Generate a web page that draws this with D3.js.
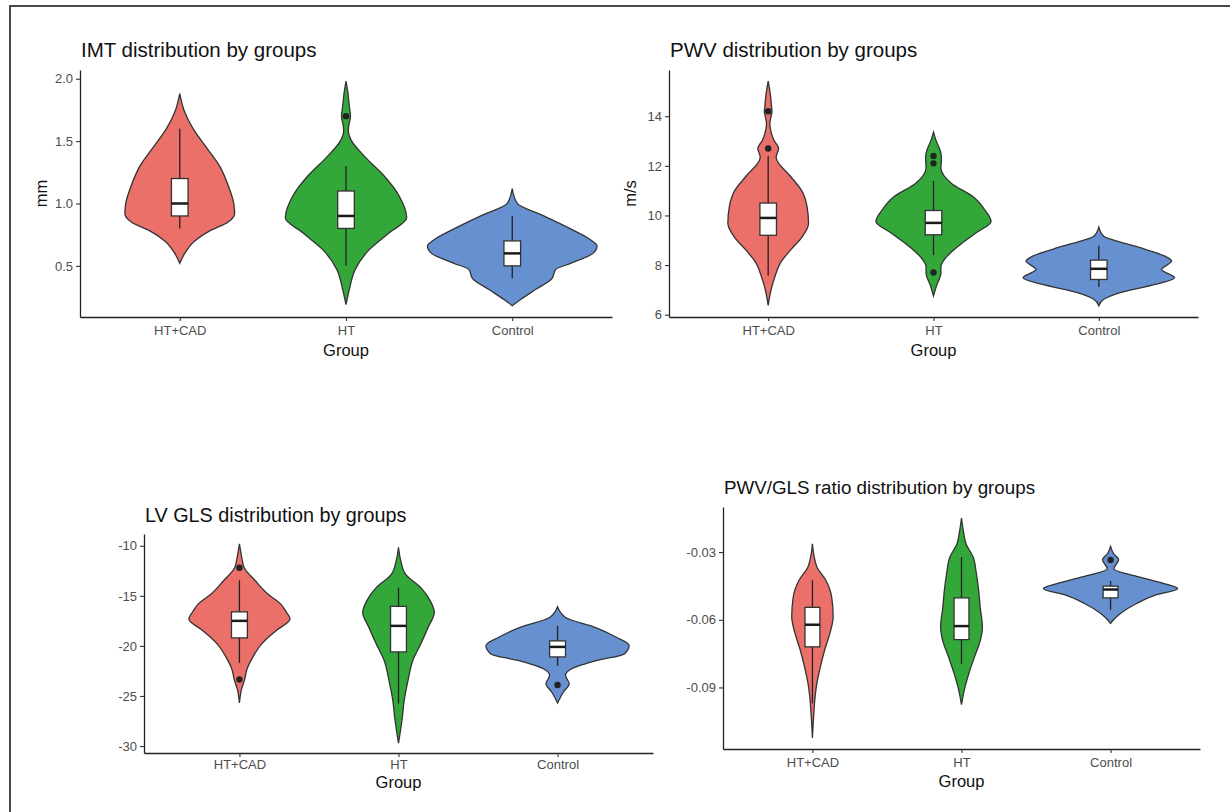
<!DOCTYPE html>
<html>
<head>
<meta charset="utf-8">
<script src="https://cdn.jsdelivr.net/npm/d3@7"></script>
<style>
body { margin: 0; background: #fff; }
svg text { font-family: "Liberation Sans", Arial, Helvetica, sans-serif; }
</style>
</head>
<body>
<div id="chart"></div>
<script>
//groups and colours
var groups = ["HT+CAD", "HT", "Control"];
var groupColors = ["#EA7069", "#33A73A", "#6690D0"];

//violin outlines: [value, half width in category units]
var imtViolins = [
    [[1.88, 0], [1.75, 0.025], [1.6, 0.08], [1.45, 0.16], [1.3, 0.24], [1.15, 0.29], [1.0, 0.325], [0.92, 0.33], [0.85, 0.29], [0.78, 0.18], [0.7, 0.09], [0.6, 0.03], [0.52, 0]],
    [[1.98, 0], [1.9, 0.01], [1.78, 0.02], [1.7, 0.027], [1.62, 0.016], [1.58, 0.014], [1.51, 0.03], [1.38, 0.11], [1.22, 0.23], [1.06, 0.32], [0.885, 0.365], [0.765, 0.26], [0.63, 0.14], [0.47, 0.055], [0.31, 0.02], [0.19, 0]],
    [[1.12, 0], [1.0, 0.03], [0.9, 0.19], [0.79, 0.36], [0.71, 0.47], [0.66, 0.51], [0.6, 0.485], [0.52, 0.35], [0.47, 0.26], [0.4, 0.24], [0.31, 0.14], [0.23, 0.05], [0.18, 0]]
];
//boxes: [lower whisker, q1, median, q3, upper whisker]
var imtBoxes = [[0.8, 0.9, 1.0, 1.2, 1.6], [0.5, 0.8, 0.9, 1.1, 1.3], [0.4, 0.5, 0.6, 0.7, 0.9]];
var imtOutliers = [[], [1.7], []];
var imtTicks = [0.5, 1.0, 1.5, 2.0];
var imtTickLabels = ["0.5", "1.0", "1.5", "2.0"];

var pwvViolins = [
    [[15.41, 0], [14.77, 0.015], [14.4, 0.02], [14.2, 0.023], [13.95, 0.016], [13.7, 0.01], [13.3, 0.02], [13.03, 0.035], [12.7, 0.063], [12.35, 0.048], [11.56, 0.137], [11.03, 0.2], [10.36, 0.235], [9.69, 0.244], [9.16, 0.208], [8.62, 0.137], [8.09, 0.074], [7.56, 0.042], [7.02, 0.018], [6.38, 0]],
    [[13.36, 0], [13.03, 0.015], [12.63, 0.04], [12.36, 0.048], [11.9, 0.045], [11.3, 0.107], [10.76, 0.238], [10.23, 0.31], [9.76, 0.348], [9.29, 0.256], [8.76, 0.149], [8.22, 0.065], [7.95, 0.045], [7.69, 0.045], [7.16, 0.018], [6.76, 0]],
    [[9.53, 0], [9.16, 0.03], [8.76, 0.22], [8.36, 0.4], [8.16, 0.44], [7.82, 0.38], [7.49, 0.458], [7.22, 0.34], [6.89, 0.13], [6.62, 0.03], [6.36, 0]]
];
var pwvBoxes = [[7.58, 9.2, 9.9, 10.5, 12.4], [8.4, 9.22, 9.7, 10.2, 11.4], [7.13, 7.42, 7.85, 8.2, 8.78]];
var pwvOutliers = [[14.2, 12.7], [12.4, 12.1, 7.7], []];
var pwvTicks = [6, 8, 10, 12, 14];
var pwvTickLabels = ["6", "8", "10", "12", "14"];

var glsViolins = [
    [[-9.82, 0], [-11.2, 0.015], [-12.2, 0.03], [-13.5, 0.1], [-14.84, 0.18], [-15.83, 0.26], [-16.5, 0.29], [-17.32, 0.318], [-18.48, 0.23], [-19.8, 0.14], [-21.1, 0.085], [-22.45, 0.045], [-23.3, 0.034], [-24.4, 0.012], [-25.7, 0]],
    [[-10.15, 0], [-11.54, 0.015], [-12.86, 0.045], [-14.18, 0.14], [-15.5, 0.2], [-16.66, 0.225], [-18.15, 0.186], [-19.8, 0.14], [-21.45, 0.09], [-23.44, 0.06], [-25.42, 0.036], [-27.4, 0.022], [-28.7, 0.01], [-29.7, 0]],
    [[-16.1, 0], [-17.16, 0.05], [-18.15, 0.236], [-19.14, 0.37], [-19.97, 0.45], [-20.8, 0.42], [-21.45, 0.25], [-22.28, 0.09], [-22.94, 0.05], [-23.77, 0.073], [-24.6, 0.037], [-25.7, 0]]
];
var glsBoxes = [[-21.7, -19.2, -17.5, -16.6, -13.45], [-25.75, -20.6, -18, -16.05, -14.18], [-22.0, -21.1, -20.1, -19.5, -18.0]];
var glsOutliers = [[-12.2, -23.35], [], [-23.9]];
var glsTicks = [-30, -25, -20, -15, -10];
var glsTickLabels = ["-30", "-25", "-20", "-15", "-10"];

var ratioViolins = [
    [[-0.0263, 0], [-0.0322, 0.012], [-0.0366, 0.03], [-0.0425, 0.09], [-0.0499, 0.129], [-0.0587, 0.139], [-0.066, 0.117], [-0.0734, 0.082], [-0.0807, 0.054], [-0.0881, 0.03], [-0.094, 0.018], [-0.1028, 0.008], [-0.1124, 0]],
    [[-0.0149, 0], [-0.0204, 0.012], [-0.0263, 0.03], [-0.0322, 0.078], [-0.0396, 0.1], [-0.0469, 0.115], [-0.0543, 0.125], [-0.0631, 0.14], [-0.069, 0.127], [-0.0763, 0.088], [-0.0837, 0.05], [-0.0896, 0.024], [-0.0976, 0]],
    [[-0.0275, 0], [-0.0307, 0.02], [-0.0334, 0.054], [-0.0374, 0.022], [-0.041, 0.19], [-0.044, 0.36], [-0.0462, 0.45], [-0.0491, 0.3], [-0.0528, 0.175], [-0.0572, 0.066], [-0.06, 0.02], [-0.0616, 0]]
];
var ratioBoxes = [[-0.097, -0.072, -0.0622, -0.0545, -0.0425], [-0.0797, -0.0688, -0.0628, -0.0503, -0.0322], [-0.0557, -0.0503, -0.0466, -0.0451, -0.0428]];
var ratioOutliers = [[], [], [-0.0335]];
var ratioTicks = [-0.09, -0.06, -0.03];
var ratioTickLabels = ["-0.09", "-0.06", "-0.03"];

var panels = [
    {title: "IMT distribution by groups", yTitle: "mm", violins: imtViolins, boxes: imtBoxes, outliers: imtOutliers,
        ticks: imtTicks, tickLabels: imtTickLabels, left: 80, right: 612, top: 70, bottom: 317,
        titleY: 57, titleSize: 20.5, groupGap: 39, tickPad: 4.5},
    {title: "PWV distribution by groups", yTitle: "m/s", violins: pwvViolins, boxes: pwvBoxes, outliers: pwvOutliers,
        ticks: pwvTicks, tickLabels: pwvTickLabels, left: 669, right: 1198, top: 70, bottom: 317,
        titleY: 57, titleSize: 20.5, groupGap: 39, tickPad: 4.5},
    {title: "LV GLS distribution by groups", yTitle: null, violins: glsViolins, boxes: glsBoxes, outliers: glsOutliers,
        ticks: glsTicks, tickLabels: glsTickLabels, left: 144, right: 653, top: 534, bottom: 753,
        titleY: 522, titleSize: 19.8, groupGap: 35, tickPad: 3},
    {title: "PWV/GLS ratio distribution by groups", yTitle: null, violins: ratioViolins, boxes: ratioBoxes, outliers: ratioOutliers,
        ticks: ratioTicks, tickLabels: ratioTickLabels, left: 723, right: 1200, top: 507, bottom: 749,
        titleY: 494, titleSize: 18.8, groupGap: 38, tickPad: 4.5}
];

var svg = d3.select("#chart").append("svg")
    .attr("width", 1230)
    .attr("height", 812);

//outer frame of the screenshot
svg.append("path")
    .attr("d", "M10,812V6H1230")
    .attr("fill", "none")
    .attr("stroke", "#4a4a4a")
    .attr("stroke-width", 2);

function drawPanel(p) {
    var g = svg.append("g");

    //y range from the data extent, expanded by 5% like ggplot
    var lo = d3.min(p.violins, v => d3.min(v, d => d[0]));
    var hi = d3.max(p.violins, v => d3.max(v, d => d[0]));
    var pad = (hi - lo) * 0.05;
    var y = d3.scaleLinear().domain([lo - pad, hi + pad]).range([p.bottom, p.top]);
    var x = d3.scalePoint().domain(groups).range([p.left, p.right]).padding(0.6);
    var step = x.step();

    p.violins.forEach(function (shape, i) {
        var cx = x(groups[i]);
        var area = d3.area()
            .y(d => y(d[0]))
            .x0(d => cx - d[1] * step)
            .x1(d => cx + d[1] * step)
            .curve(d3.curveMonotoneY);
        g.append("path")
            .attr("d", area(shape))
            .attr("fill", groupColors[i])
            .attr("stroke", "#333")
            .attr("stroke-width", 1.3);

        var b = p.boxes[i];
        var bw = 0.05 * step;
        //whisker
        g.append("line")
            .attr("x1", cx).attr("x2", cx)
            .attr("y1", y(b[0])).attr("y2", y(b[4]))
            .attr("stroke", "#222")
            .attr("stroke-width", 1.3);
        //box
        g.append("rect")
            .attr("x", cx - bw)
            .attr("width", 2 * bw)
            .attr("y", y(b[3]))
            .attr("height", y(b[1]) - y(b[3]))
            .attr("fill", "white")
            .attr("stroke", "#333")
            .attr("stroke-width", 1.3);
        //median
        g.append("line")
            .attr("x1", cx - bw).attr("x2", cx + bw)
            .attr("y1", y(b[2])).attr("y2", y(b[2]))
            .attr("stroke", "#1a1a1a")
            .attr("stroke-width", 2.5);

        g.selectAll(null)
            .data(p.outliers[i])
            .enter().append("circle")
            .attr("cx", cx)
            .attr("cy", d => y(d))
            .attr("r", 3.2)
            .attr("fill", "#222");
    });

    //axes
    var yAxis = g.append("g")
        .attr("transform", "translate(" + p.left + ",0)")
        .call(d3.axisLeft(y).tickValues(p.ticks)
            .tickFormat((d, i) => p.tickLabels[i])
            .tickSize(4).tickSizeOuter(0).tickPadding(3));
    var xAxis = g.append("g")
        .attr("transform", "translate(0," + p.bottom + ")")
        .call(d3.axisBottom(x).tickSize(4).tickSizeOuter(0).tickPadding(p.tickPad));

    [yAxis, xAxis].forEach(function (ax) {
        ax.select(".domain").attr("stroke", "#222").attr("stroke-width", 1.3);
        ax.selectAll(".tick line").attr("stroke", "#333").attr("stroke-width", 1.1);
        ax.selectAll(".tick text")
            .attr("fill", "#4d4d4d")
            .attr("font-size", "13px")
            .attr("font-family", "'Liberation Sans', Arial, sans-serif");
    });

    //titles
    g.append("text")
        .attr("x", p.left + 1)
        .attr("y", p.titleY)
        .attr("font-size", p.titleSize + "px")
        .attr("fill", "#111")
        .text(p.title);

    g.append("text")
        .attr("x", (p.left + p.right) / 2)
        .attr("y", p.bottom + p.groupGap)
        .attr("text-anchor", "middle")
        .attr("font-size", "16.5px")
        .attr("fill", "#111")
        .text("Group");

    if (p.yTitle) {
        g.append("text")
            .attr("transform", "translate(" + (p.left - 39) + "," + ((p.top + p.bottom) / 2) + ") rotate(-90)")
            .attr("text-anchor", "middle")
            .attr("dy", "0.35em")
            .attr("font-size", "16.5px")
            .attr("fill", "#111")
            .text(p.yTitle);
    }
}

panels.forEach(drawPanel);
</script>
</body>
</html>
